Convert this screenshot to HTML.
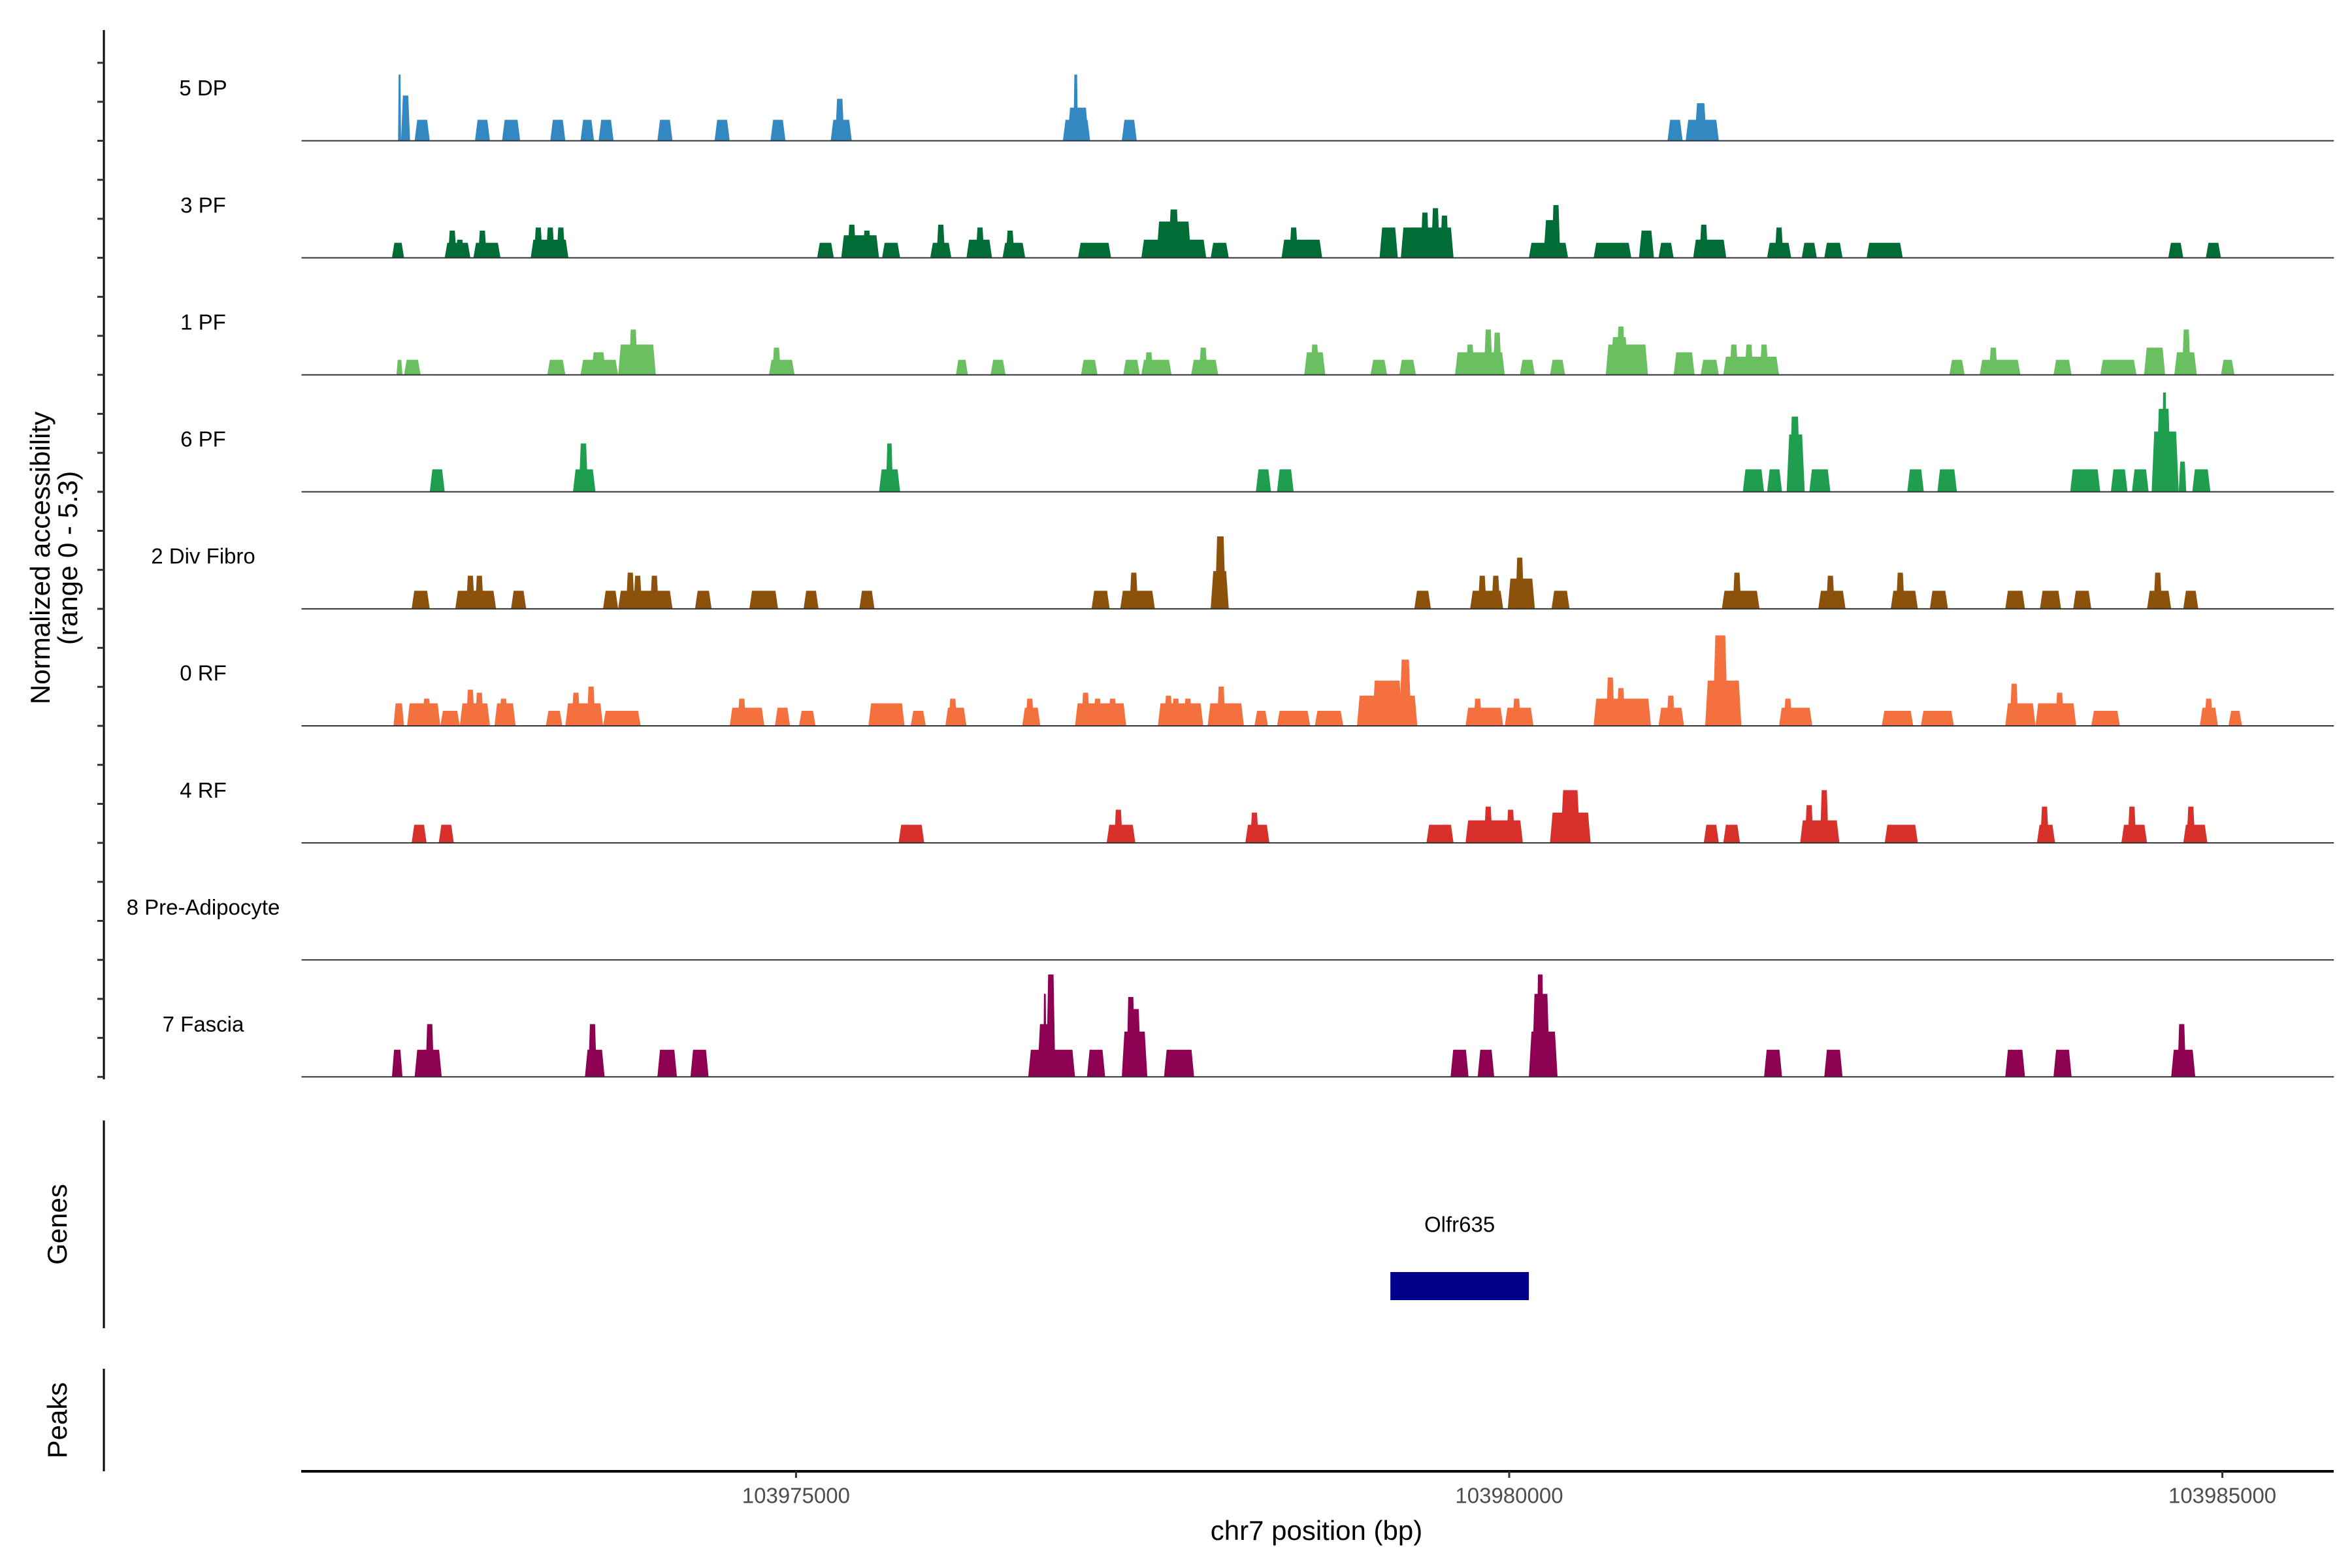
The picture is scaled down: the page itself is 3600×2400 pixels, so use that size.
<!DOCTYPE html>
<html><head><meta charset="utf-8">
<style>
html,body{margin:0;padding:0;background:#fff;}
svg{display:block;font-family:"Liberation Sans",Arial,sans-serif;}
</style></head>
<body>
<svg id="chart" width="3600" height="2400" viewBox="0 0 3600 2400" xmlns="http://www.w3.org/2000/svg">
<g id="tracks"></g>
<line x1="159" y1="46" x2="159" y2="1652" stroke="#000" stroke-width="3"/>
<g id="yticks"></g>
<text transform="translate(76,854) rotate(-90)" text-anchor="middle" font-size="42">Normalized accessibility</text>
<text transform="translate(118,854) rotate(-90)" text-anchor="middle" font-size="42">(range 0 - 5.3)</text>
<line x1="159" y1="1715" x2="159" y2="2033" stroke="#000" stroke-width="3"/>
<text transform="translate(102,1874) rotate(-90)" text-anchor="middle" font-size="42">Genes</text>
<line x1="159" y1="2095" x2="159" y2="2252" stroke="#000" stroke-width="3"/>
<text transform="translate(102,2174) rotate(-90)" text-anchor="middle" font-size="42">Peaks</text>
<g id="genes"></g>
<line x1="461" y1="2252" x2="3572" y2="2252" stroke="#000" stroke-width="4"/>
<g id="xticks"></g>
<text x="2015" y="2357" text-anchor="middle" font-size="42">chr7 position (bp)</text>
</svg>
<script>
const OFFSET = 103970000;
const DOMAIN = [103971533, 103985782];
const Y_MAX = 5.3;
const trackNames = ["5 DP","3 PF","1 PF","6 PF","2 Div Fibro","0 RF","4 RF","8 Pre-Adipocyte","7 Fascia"];
const trackColors = ["#3388c2","#006d36","#6abf61","#1f9e4f","#8c510a","#f4713f","#d8302a","#888888","#8e0152"];
const xTickValues = [103975000, 103980000, 103985000];
const xTickLabels = ["103975000","103980000","103985000"];
const geneNames = ["Olfr635"];
const geneStarts = [103979167];
const geneEnds = [103980138];

const peaksDP = [[2210,2231,3.0],[2231,2294,2.05],[2326,2432,0.95],[2749,2854,0.95],[2939,3066,0.95],[3277,3383,0.95],[3489,3584,0.95],[3616,3721,0.95],[4028,4134,0.95],[4429,4535,0.95],[4821,4926,0.95],[5243,5391,0.95],[5275,5338,1.9],[6871,7062,0.95],[6903,7051,1.5],[6945,6977,3.0],[7284,7389,0.95],[11110,11216,0.95],[11237,11470,0.95],[11300,11385,1.7]];
const peaks3PF = [[2167,2252,0.68],[2537,2717,0.68],[2560,2620,1.23],[2613,2673,0.82],[2738,2928,0.68],[2771,2831,1.23],[3140,3404,0.82],[3163,3223,1.37],[3247,3307,1.37],[3321,3381,1.37],[5148,5265,0.68],[5317,5582,1.02],[5361,5421,1.5],[5467,5527,1.23],[5603,5730,0.68],[5941,6089,0.68],[5985,6045,1.5],[6195,6374,0.82],[6260,6320,1.37],[6448,6607,0.68],[6471,6531,1.23],[6977,7209,0.68],[7421,7876,0.82],[7527,7770,1.64],[7611,7686,2.19],[7907,8034,0.68],[8404,8689,0.82],[8459,8519,1.37],[9091,9219,1.37],[9240,9610,1.37],[9379,9439,2.05],[9453,9513,2.25],[9516,9576,1.91],[10138,10413,0.68],[10240,10330,1.71],[10298,10358,2.39],[10592,10856,0.68],[10910,11015,1.23],[11047,11153,0.68],[11290,11522,0.82],[11334,11394,1.5],[11808,11977,0.68],[11862,11922,1.37],[12051,12157,0.68],[12209,12337,0.68],[12506,12759,0.68],[14621,14726,0.68],[14884,14990,0.68]];
const peaks1PF = [[2199,2241,0.68],[2252,2368,0.68],[3256,3383,0.68],[3489,3753,0.68],[3563,3668,1.02],[3753,4017,1.37],[3829,3889,2.05],[4810,4990,0.68],[4833,4893,1.23],[6121,6205,0.68],[6364,6469,0.68],[6998,7114,0.68],[7294,7410,0.68],[7421,7633,0.68],[7444,7504,1.02],[7770,7960,0.68],[7825,7885,1.23],[8563,8711,1.02],[8607,8667,1.37],[9028,9144,0.68],[9229,9346,0.68],[9620,9969,1.02],[9696,9756,1.37],[9823,9883,2.05],[9886,9946,1.91],[10075,10180,0.68],[10286,10392,0.68],[10677,10973,1.37],[10709,10835,1.71],[10753,10813,2.19],[11153,11300,1.02],[11342,11470,0.68],[11501,11892,0.82],[11545,11605,1.37],[11651,11711,1.37],[11757,11817,1.37],[13086,13193,0.68],[13298,13584,0.68],[13364,13424,1.23],[13816,13943,0.68],[14144,14398,0.68],[14451,14599,1.23],[14663,14821,1.02],[14717,14777,2.05],[14990,15085,0.68]];
const peaks6PF = [[2432,2537,1.02],[3436,3594,1.02],[3478,3541,2.19],[5582,5730,1.02],[5630,5680,2.19],[8224,8330,1.02],[8372,8489,1.02],[11638,11787,1.02],[11808,11913,1.02],[11945,12072,2.6],[11966,12040,3.41],[12104,12252,1.02],[12791,12907,1.02],[13002,13139,1.02],[13933,14144,1.02],[14218,14335,1.02],[14366,14483,1.02],[14504,14694,2.73],[14536,14641,3.76],[14578,14610,4.5],[14694,14747,1.37],[14789,14916,1.02]];
const peaksDivFibro = [[2305,2432,0.82],[2611,2897,0.82],[2687,2747,1.5],[2750,2810,1.5],[3002,3108,0.82],[3647,3753,0.82],[3753,4134,0.82],[3808,3868,1.64],[3860,3920,1.5],[3977,4037,1.5],[4292,4408,0.82],[4673,4874,0.82],[5053,5158,0.82],[5444,5550,0.82],[7072,7199,0.82],[7273,7516,0.82],[7338,7398,1.64],[7907,8034,1.71],[7937,8013,3.28],[9335,9451,0.82],[9726,9958,0.82],[9781,9841,1.5],[9876,9936,1.5],[9990,10180,1.37],[10044,10104,2.32],[10297,10423,0.82],[11491,11755,0.82],[11567,11627,1.64],[12167,12358,0.82],[12222,12282,1.5],[12675,12865,0.82],[12712,12772,1.64],[12949,13076,0.82],[13478,13616,0.82],[13721,13869,0.82],[13954,14081,0.82],[14472,14641,0.82],[14517,14577,1.64],[14726,14831,0.82]];
const peaks0RF = [[2178,2252,1.02],[2273,2506,1.02],[2380,2440,1.23],[2506,2643,0.68],[2643,2854,1.02],[2687,2747,1.64],[2750,2810,1.5],[2886,3034,1.02],[2919,2979,1.23],[3246,3362,0.68],[3383,3647,1.02],[3427,3487,1.5],[3533,3593,1.78],[3647,3911,0.68],[4535,4778,0.82],[4590,4650,1.23],[4852,4958,0.82],[5021,5137,0.68],[5508,5761,1.02],[5804,5910,0.68],[6047,6195,0.82],[6069,6129,1.23],[6586,6713,0.82],[6609,6669,1.23],[6956,7315,1.02],[7000,7060,1.5],[7084,7144,1.23],[7189,7249,1.23],[7537,7855,1.02],[7581,7641,1.37],[7633,7693,1.23],[7717,7777,1.23],[7886,8140,1.02],[7951,8011,1.78],[8214,8309,0.68],[8372,8605,0.68],[8637,8837,0.68],[8933,9356,1.37],[9039,9250,2.05],[9229,9314,3.0],[9694,9958,0.82],[9749,9809,1.23],[9969,10170,0.82],[10022,10082,1.23],[10592,10994,1.23],[10679,10739,2.19],[10753,10813,1.71],[10857,10917,1.23],[11047,11226,0.82],[11103,11163,1.37],[11374,11628,2.05],[11427,11533,4.1],[11892,12125,0.82],[11924,11984,1.23],[12612,12833,0.68],[12886,13118,0.68],[13478,13690,1.02],[13510,13570,1.91],[13690,13975,1.02],[13829,13889,1.5],[14081,14282,0.68],[14842,14969,0.82],[14874,14934,1.23],[15043,15138,0.68]];
const peaks4RF = [[2305,2410,0.82],[2495,2601,0.82],[5719,5899,0.82],[7178,7379,0.82],[7230,7290,1.5],[8150,8319,0.82],[8184,8244,1.37],[9420,9610,0.82],[9694,10096,1.02],[9823,9883,1.64],[9980,10040,1.5],[10286,10571,1.37],[10360,10497,2.39],[11364,11470,0.82],[11501,11618,0.82],[12040,12315,1.02],[12073,12133,1.71],[12179,12239,2.39],[12633,12865,0.82],[13700,13827,0.82],[13723,13783,1.64],[14292,14472,0.82],[14336,14396,1.64],[14726,14895,0.82],[14749,14809,1.64]];
const peaksPreAdipocyte = [];
const peaksFascia = [[2167,2241,1.23],[2326,2516,1.23],[2402,2462,2.39],[3520,3658,1.23],[3543,3603,2.39],[4028,4165,1.23],[4260,4387,1.23],[6628,6956,1.23],[6692,6818,2.39],[6734,6755,3.76],[6755,6818,4.64],[7040,7167,1.23],[7284,7463,2.05],[7315,7421,3.07],[7317,7377,3.62],[7580,7791,1.23],[9589,9715,1.23],[9779,9895,1.23],[10138,10339,2.05],[10159,10286,3.76],[10191,10244,4.64],[11787,11913,1.23],[12209,12337,1.23],[13478,13616,1.23],[13816,13943,1.23],[14641,14810,1.23],[14685,14745,2.39]];
const trackPeaks = [peaksDP,peaks3PF,peaks1PF,peaks6PF,peaksDivFibro,peaks0RF,peaks4RF,peaksPreAdipocyte,peaksFascia];

const NS = "http://www.w3.org/2000/svg";
const X0 = 461.5, X1 = 3572.3;
const TRACK_H = 179.1, FIRST_BASE = 215.5;
function xScale(bp){ return X0 + (bp - DOMAIN[0]) / (DOMAIN[1]-DOMAIN[0]) * (X1-X0); }
function baseY(i){ return FIRST_BASE + i*TRACK_H; }
function yScale(i, v){ return baseY(i) - v / Y_MAX * TRACK_H; }
function mk(tag, attrs){ const e=document.createElementNS(NS,tag); for(const k in attrs) e.setAttribute(k,attrs[k]); return e; }

const gTracks = document.getElementById("tracks");
const gY = document.getElementById("yticks");
trackNames.forEach((name,i)=>{
  const g = mk("g",{});
  
  
  gTracks.appendChild(g);
  const lab = mk("text",{x:311,y:baseY(i)-78,"text-anchor":"middle","dominant-baseline":"middle","font-size":33,fill:"#000"});
  lab.textContent = name;
  
  
  g.appendChild(lab);
  trackPeaks[i].forEach(p=>{
    const xa = xScale(OFFSET+p[0]), xb = xScale(OFFSET+p[1]);
    const inset = Math.min((xb-xa)*0.2, 4);
    const yb = baseY(i), yt = yScale(i,p[2]);
    const poly = mk("polygon",{points:`${xa},${yb} ${xa+inset},${yt} ${xb-inset},${yt} ${xb},${yb}`,fill:trackColors[i]});
    
    
    g.appendChild(poly);
  });
  const bl = mk("line",{x1:X0,x2:X1,y1:baseY(i),y2:baseY(i),stroke:"#333","stroke-width":2});
  
  
  g.appendChild(bl);
  for(let k=0;k<3;k++){
    const ty = baseY(i) - k*TRACK_H/3;
    const t = mk("line",{x1:149,x2:159,y1:ty,y2:ty,stroke:"#333","stroke-width":3});
    
    
    gY.appendChild(t);
  }
});

const gG = document.getElementById("genes");
geneNames.forEach((n,i)=>{
  const xa = xScale(geneStarts[i]), xb = xScale(geneEnds[i]);
  const r = mk("rect",{x:xa,y:1947,width:xb-xa,height:43,fill:"#00008b"});
  
  
  gG.appendChild(r);
  const t = mk("text",{x:(xa+xb)/2,y:1877,"text-anchor":"middle","dominant-baseline":"middle","font-size":33});
  t.textContent = n;
  
  
  gG.appendChild(t);
});

const gX = document.getElementById("xticks");
xTickValues.forEach((v,i)=>{
  const x = xScale(v);
  const l = mk("line",{x1:x,x2:x,y1:2252,y2:2262,stroke:"#333","stroke-width":3});
  
  
  gX.appendChild(l);
  const t = mk("text",{x:x,y:2292,"text-anchor":"middle","dominant-baseline":"middle","font-size":33,fill:"#4d4d4d"});
  t.textContent = xTickLabels[i];
  
  
  gX.appendChild(t);
});
</script>
</body></html>
